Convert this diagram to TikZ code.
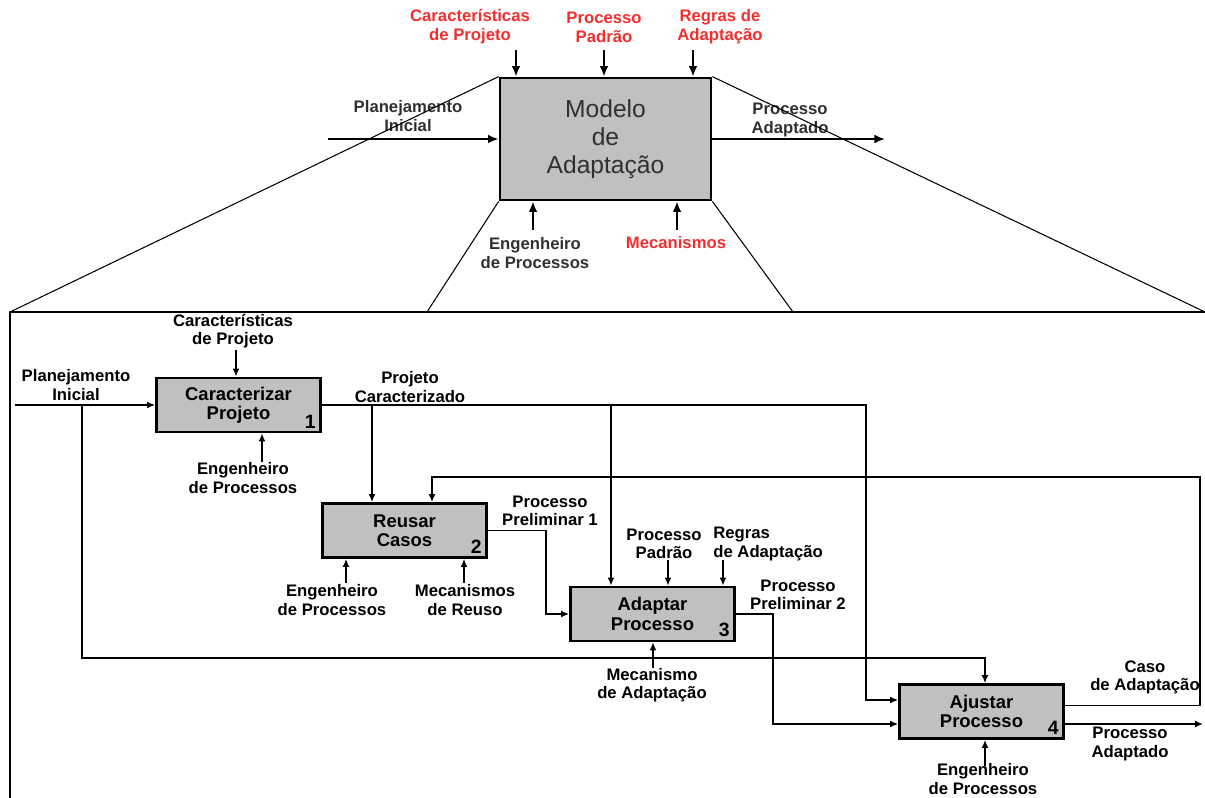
\documentclass[tikz,border=0pt]{standalone}
\usepackage{fontspec}
\setsansfont{Liberation Sans}
\usetikzlibrary{arrows.meta,calc}
\definecolor{boxgray}{HTML}{C0C0C0}
\definecolor{lblred}{HTML}{F22E2E}
\definecolor{lbldark}{HTML}{303030}

\begin{document}
\begin{tikzpicture}[x=0.02cm,y=-0.02cm,>={Latex[length=4.6pt,width=4pt]},
    act node/.style={draw,line width=1.6pt,fill=boxgray,minimum width=3.28cm,minimum height=1.08cm,inner sep=0pt,align=center,font=\sffamily\bfseries\fontsize{10.5}{11}\selectfont},
    model node/.style={draw,line width=1.6pt,fill=boxgray,minimum width=4.22cm,minimum height=2.44cm,inner sep=0pt,align=center,text=lbldark,font=\sffamily\fontsize{14}{16}\selectfont},
    lbl/.style={align=center,inner sep=0pt,font=\sffamily\bfseries\fontsize{9.5}{10.3}\selectfont},
    top lbl/.style={align=center,inner sep=0pt,font=\sffamily\bfseries\fontsize{9.5}{10.8}\selectfont},
    num/.style={anchor=south east,inner sep=0pt,font=\sffamily\bfseries\fontsize{11}{11}\selectfont},
    flow/.style={->,line width=0.85pt},
    top flow/.style={-{Latex[length=6pt,width=5pt]},line width=1.1pt},
    zoom line/.style={line width=0.6pt},
    frame/.style={line width=1.1pt}]

\useasboundingbox (0,0) rectangle (1205,798);

% context
\node[model node] (mb) at (605.5,139) {Modelo\\de\\Adaptação};
\node[top lbl,text=lblred] (tcar) at (470,27) {Características\\de Projeto};
\node[top lbl,text=lblred] (tpad) at (604,27) {Processo\\Padrão};
\node[top lbl,text=lblred] (treg) at (720,27) {Regras de\\Adaptação};
\node[top lbl,text=lbldark] (tpla) at (408,116) {Planejamento\\Inicial};
\node[top lbl,text=lbldark] (tada) at (790,120) {Processo\\Adaptado};
\node[top lbl,text=lbldark] (teng) at (535,253) {Engenheiro\\de Processos};
\node[top lbl,text=lblred] (tmec) at (676,243) {Mecanismos};

\coordinate (tin1) at (516,50);
\coordinate (tin2) at (604,50);
\coordinate (tin3) at (693,50);
\coordinate (tin4) at (328,139);
\coordinate (tout) at (885,139);
\coordinate (tbot1) at (533,230);
\coordinate (tbot2) at (677,230);

\draw[top flow] (tin1) -- (tin1 |- mb.north);
\draw[top flow] (tin2) -- (tin2 |- mb.north);
\draw[top flow] (tin3) -- (tin3 |- mb.north);
\draw[top flow] (tin4) -- (mb.west);
\draw[top flow] (mb.east) -- (tout);
\draw[top flow] (tbot1) -- (tbot1 |- mb.south);
\draw[top flow] (tbot2) -- (tbot2 |- mb.south);

\coordinate (fnw) at (10,312);
\coordinate (fne) at (1205,312);
\coordinate (fsw) at (427,312);
\coordinate (fse) at (793,312);
\coordinate (fbot) at (10,798);

\draw[zoom line] (mb.north west) -- (fnw);
\draw[zoom line] (mb.north east) -- (fne);
\draw[zoom line] (mb.south west) -- (fsw);
\draw[zoom line] (mb.south east) -- (fse);
\draw[frame] (fbot) -- (fnw) -- (fne);

% decomposition
\node[act node] (b1) at (238.5,405) {Caracterizar\\Projeto};
\node[act node] (b2) at (404.5,530.5) {Reusar\\Casos};
\node[act node] (b3) at (652.5,614) {Adaptar\\Processo};
\node[act node] (b4) at (981.5,711.5) {Ajustar\\Processo};

\node[num] (n1) at ($(b1.south east)+(-6,-5)$) {1};
\node[num] (n2) at ($(b2.south east)+(-6,-5)$) {2};
\node[num] (n3) at ($(b3.south east)+(-6,-5)$) {3};
\node[num] (n4) at ($(b4.south east)+(-6,-5)$) {4};

\node[lbl] (lcar) at (233,331) {Características\\de Projeto};
\node[lbl] (lpla) at (76,385) {Planejamento\\Inicial};
\node[lbl] (leng1) at (243,478) {Engenheiro\\de Processos};
\node[lbl] (lpc) at (410,387) {Projeto\\Caracterizado};
\node[lbl] (leng2) at (332,600) {Engenheiro\\de Processos};
\node[lbl] (lreu) at (465,600) {Mecanismos\\de Reuso};
\node[lbl] (lpp1) at (550,511) {Processo\\Preliminar 1};
\node[lbl] (lpad) at (664,544) {Processo\\Padrão};
\node[lbl,align=left,anchor=west] (lreg) at (713,544) {Regras\\de Adaptação};
\node[lbl] (lpp2) at (798,595) {Processo\\Preliminar 2};
\node[lbl] (lmec) at (652,685) {Mecanismo\\de Adaptação};
\node[lbl] (lcaso) at (1145,677) {Caso\\de Adaptação};
\node[lbl] (lada) at (1130,744) {Processo\\Adaptado};
\node[lbl] (leng4) at (983,779) {Engenheiro\\de Processos};

\coordinate (pin) at (15,405);
\coordinate (pbr) at (82,405);
\coordinate (pj4) at (985,658);
\coordinate (pcbr1) at (372,405);
\coordinate (pcbr2) at (611,405);
\coordinate (pcend) at (866,700);
\coordinate (fbr) at (1200,477);
\coordinate (fbl) at (432,477);
\coordinate (p1a) at (546,614);
\coordinate (p2a) at (773,724);
\coordinate (pout) at (1203,724);

\coordinate (c1) at (236,350);
\coordinate (e1) at (262,462);
\coordinate (e2) at (346,583);
\coordinate (m2) at (464,583);
\coordinate (pp3) at (668,560);
\coordinate (rg3) at (723,560);
\coordinate (m3) at (653,668);
\coordinate (e4) at (985,766);

\draw[flow] (pin) -- (b1.west);
\draw[flow] (pbr) |- (pj4) -- (pj4 |- b4.north);
\draw[flow] (b1.east) -| (pcend) -- (pcend -| b4.west);
\draw[flow] (pcbr1) -- (pcbr1 |- b2.north);
\draw[flow] (pcbr2) -- (pcbr2 |- b3.north);
\draw[flow] ($(b4.east)+(0,-6)$) -| (fbr) -- (fbl) -- (fbl |- b2.north);
\draw[flow] (b2.east) -| (p1a) -- (b3.west);
\draw[flow] (b3.east) -| (p2a) -- (p2a -| b4.west);
\draw[flow] (pout -| b4.east) -- (pout);

\draw[flow] (c1) -- (c1 |- b1.north);
\draw[flow] (e1) -- (e1 |- b1.south);
\draw[flow] (e2) -- (e2 |- b2.south);
\draw[flow] (m2) -- (m2 |- b2.south);
\draw[flow] (pp3) -- (pp3 |- b3.north);
\draw[flow] (rg3) -- (rg3 |- b3.north);
\draw[flow] (m3) -- (m3 |- b3.south);
\draw[flow] (e4) -- (e4 |- b4.south);

\end{tikzpicture}
\end{document}
